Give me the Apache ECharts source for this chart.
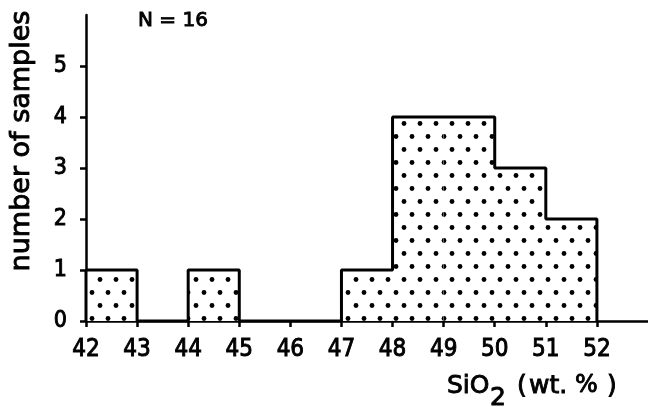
<!DOCTYPE html>
<html><head><meta charset="utf-8">
<script src="https://cdn.jsdelivr.net/npm/echarts@6/dist/echarts.min.js"></script>
<style>html,body{margin:0;padding:0;background:#fff}#c{width:648px;height:407px}</style>
</head><body><div id="c"></div><script>
// Histogram data (SiO2 wt.%, bin width 1)
const binStarts = [42, 43, 44, 45, 46, 47, 48, 49, 50, 51];
const binEnd = 52;
const counts = [1, 0, 1, 0, 0, 1, 4, 4, 3, 2];
const xTicks = [42, 43, 44, 45, 46, 47, 48, 49, 50, 51, 52];
const yTicks = [0, 1, 2, 3, 4, 5];
const sampleCount = 16;

const barData = binStarts.map((s, i) => [s + 0.5, counts[i]]);
const outline = [[binStarts[0], 0]]
  .concat(binStarts.map((s, i) => [s, counts[i]]))
  .concat([[binEnd, 0]]);

const NARROW = "'DejaVu Sans Condensed',sans-serif";
const WIDE = "'DejaVu Sans',sans-serif";
const heavy = {stroke: '#000', lineWidth: 0.9};

function txt(x, y, text, font, extra, align) {
  return Object.assign({type: 'text', x: x, y: y,
    style: Object.assign({text: text, font: font, fill: '#000', align: align || 'left', verticalAlign: 'middle'}, heavy)}, extra || {});
}

const chart = echarts.init(document.getElementById('c'), null, {renderer: 'canvas'});
chart.setOption({
  animation: false,
  backgroundColor: '#fff',
  grid: {left: 86, right: 0, top: 15, bottom: 86, containLabel: false},
  xAxis: {
    type: 'value', min: 42, max: 53, interval: 1,
    axisLine: {show: true, onZero: false, lineStyle: {color: '#000', width: 2.5}},
    axisTick: {show: true, customValues: xTicks, length: 6, lineStyle: {color: '#000', width: 2.5}},
    axisLabel: {customValues: xTicks, margin: 17, color: '#000', fontSize: 24, fontFamily: NARROW,
      textBorderColor: '#000', textBorderWidth: 0.9},
    splitLine: {show: false}
  },
  yAxis: {
    type: 'value', min: 0, max: 6, interval: 1,
    axisLine: {show: true, onZero: false, lineStyle: {color: '#000', width: 2.5}},
    axisTick: {show: true, customValues: yTicks, length: 6, lineStyle: {color: '#000', width: 2.5}},
    axisLabel: {customValues: yTicks, margin: 19, color: '#000', fontSize: 23, fontFamily: NARROW,
      textBorderColor: '#000', textBorderWidth: 0.9},
    splitLine: {show: false}
  },
  series: [
    {
      type: 'bar', data: barData, barWidth: '100%', z: 1,
      itemStyle: {
        color: '#fff', borderWidth: 0,
        decal: {
          symbol: 'circle', color: '#000', symbolSize: 0.6,
          dashArrayX: [[8, 8], [0, 8, 8, 0]],
          dashArrayY: [13, 0],
          rotation: 0
        }
      }
    },
    {
      type: 'line', data: outline, step: 'end', symbol: 'none', z: 3,
      lineStyle: {color: '#000', width: 3}
    }
  ],
  graphic: [
    txt(22, 141, 'number of samples', '27px ' + WIDE, {rotation: Math.PI / 2}, 'center'),
    txt(138, 21, 'N = ' + sampleCount, '20px ' + WIDE),
    txt(447, 386, 'SiO', '25px ' + WIDE),
    txt(490, 398, '2', '25px ' + WIDE),
    txt(517, 386, '(', '25px ' + WIDE),
    txt(529, 386, 'wt.', '25px ' + WIDE),
    txt(575, 386, '%', '24px ' + WIDE),
    txt(607, 386, ')', '25px ' + WIDE)
  ]
});
</script></body></html>
